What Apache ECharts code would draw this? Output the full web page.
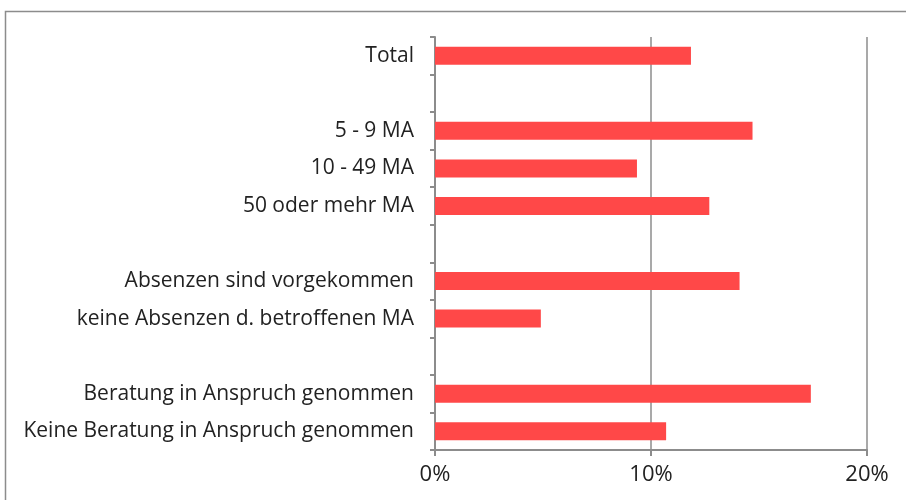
<!DOCTYPE html>
<html>
<head>
<meta charset="utf-8">
<script src="https://cdn.jsdelivr.net/npm/echarts@6/dist/echarts.min.js"></script>
<style>
  html, body { margin: 0; padding: 0; background: #fff; }
  #chart { width: 906px; height: 500px; }
</style>
</head>
<body>
<div id="chart"></div>
<script>
// categories top to bottom, '' = spacer row
const categories = [
  'Total',
  '',
  '5 - 9 MA',
  '10 - 49 MA',
  '50 oder mehr MA',
  '',
  'Absenzen sind vorgekommen',
  'keine Absenzen d. betroffenen MA',
  '',
  'Beratung in Anspruch genommen',
  'Keine Beratung in Anspruch genommen'
]
const values = [11.85, null, 14.7, 9.35, 12.7, null, 14.1, 4.9, null, 17.4, 10.7]
const xTicks = [0, 10, 20]

const chart = echarts.init(document.getElementById('chart'))
chart.setOption({
  animation: false,
  textStyle: { fontFamily: 'Open Sans' },
  graphic: [{
    type: 'rect',
    shape: { x: 5.5, y: 11.5, width: 920, height: 520 },
    style: { fill: 'none', stroke: '#8c8c8c', lineWidth: 1.5 }
  }],
  grid: { left: 435, right: 39, top: 37, bottom: 50 },
  xAxis: {
    type: 'value',
    min: xTicks[0],
    max: xTicks[xTicks.length - 1],
    interval: 10,
    axisLine: { show: true, lineStyle: { color: '#8c8c8c', width: 2 } },
    axisTick: { show: true, length: 6, lineStyle: { color: '#8c8c8c', width: 2 } },
    axisLabel: {
      margin: 14,
      color: '#222',
      fontSize: 22,
      formatter: v => v + '%'
    },
    splitLine: {
      show: true,
      lineStyle: { color: '#8c8c8c', width: 1.5 }
    }
  },
  yAxis: {
    type: 'category',
    inverse: true,
    data: categories,
    axisLine: { show: true, lineStyle: { color: '#8c8c8c', width: 2 } },
    axisTick: { show: true, length: 5, lineStyle: { color: '#8c8c8c', width: 2 } },
    axisLabel: { margin: 21, color: '#222', fontSize: 21 }
  },
  series: [{
    type: 'bar',
    data: values,
    barWidth: 18,
    itemStyle: { color: '#ff4848' }
  }]
})
</script>
</body>
</html>
